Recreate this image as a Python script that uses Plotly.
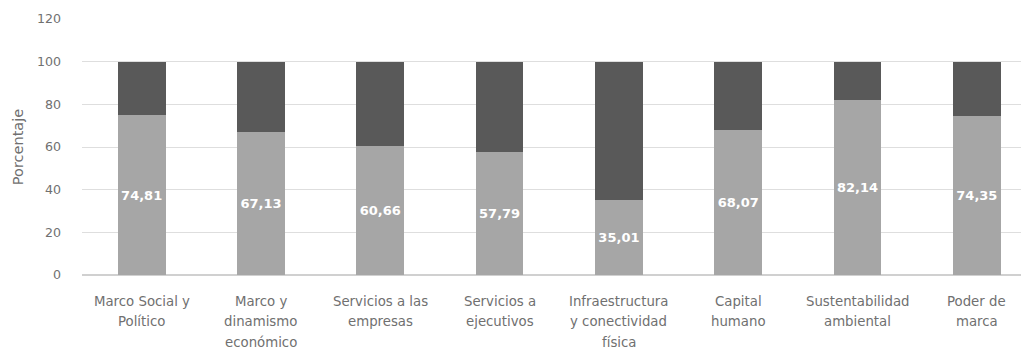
import plotly.graph_objects as go

categories = ["Marco Social y<br>Político", "Marco y<br>dinamismo<br>económico",
              "Servicios a las<br>empresas", "Servicios a<br>ejecutivos",
              "Infraestructura<br>y conectividad<br>física", "Capital<br>humano",
              "Sustentabilidad<br>ambiental", "Poder de<br>marca"]
values = [74.81, 67.13, 60.66, 57.79, 35.01, 68.07, 82.14, 74.35]
remainder = [round(100 - v, 2) for v in values]
labels = [f"{v:.2f}".replace(".", ",") for v in values]
yticks = [0, 20, 40, 60, 80, 100, 120]

FONT = "DejaVu Sans"
TXT = "#707070"
xs = list(range(len(categories)))

fig = go.Figure()
fig.add_trace(go.Bar(x=xs, y=values, marker=dict(color="#a6a6a6", line=dict(width=0)),
                     width=0.40, text=labels, textposition="inside",
                     insidetextanchor="middle", textangle=0, constraintext="none",
                     textfont=dict(color="white", size=13, family=FONT, weight=600),
                     hoverinfo="skip"))
fig.add_trace(go.Bar(x=xs, y=remainder, marker=dict(color="#595959", line=dict(width=0)),
                     width=0.40, hoverinfo="skip"))

# category labels, one annotation per line for Excel-like line spacing
for i, cat in enumerate(categories):
    for k, line in enumerate(cat.split("<br>")):
        fig.add_annotation(x=i, y=0, xref="x", yref="y", text=line, showarrow=False,
                           yanchor="middle", xanchor="center", yshift=-26 - 20.5 * k,
                           font=dict(size=13.3, family=FONT, color=TXT))

fig.update_layout(
    barmode="stack", showlegend=False,
    width=1021, height=349,
    margin=dict(l=82, r=0, t=19, b=74, autoexpand=False),
    plot_bgcolor="white", paper_bgcolor="white",
    font=dict(family=FONT, size=11, color=TXT),
)
fig.update_xaxes(range=[-0.5, 7.37], tickvals=xs, showticklabels=False,
                 showgrid=False, zeroline=False, showline=False, ticks="", automargin=False)
fig.update_yaxes(range=[0, 120], tickvals=yticks, showgrid=True, gridcolor="#dedede",
                 gridwidth=1, zeroline=True, zerolinecolor="#d0d0d0", showline=False,
                 tickfont=dict(size=12.6, family=FONT, color=TXT),
                 ticklabelstandoff=20, automargin=False,
                 title=dict(text="Porcentaje", font=dict(size=14.5, family=FONT, color=TXT), standoff=9))

fig.write_html("out.html", config={"displayModeBar": False},
               post_script="document.body.style.margin='0';")
